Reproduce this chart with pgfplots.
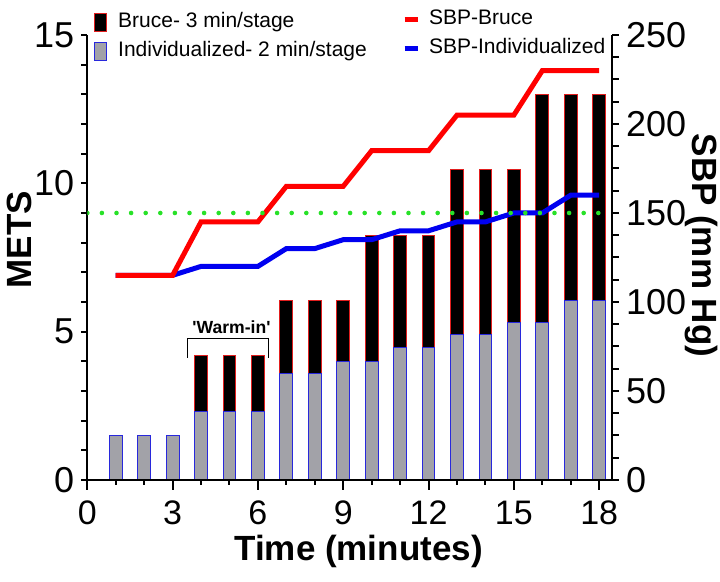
\documentclass[border=0pt]{standalone}
\usepackage{pgfplots}
\pgfplotsset{compat=1.18}
\usepackage{fontspec}
\setmainfont{Liberation Sans}
\definecolor{barred}{RGB}{225,30,30}
\definecolor{barblue}{RGB}{40,40,220}
\definecolor{bargray}{RGB}{162,162,168}
\definecolor{dotgreen}{RGB}{40,225,40}
\definecolor{linered}{RGB}{255,0,0}
\definecolor{lineblue}{RGB}{0,0,240}
\pgfplotsset{
  base/.style={
    scale only axis, width=262.35pt, height=222.5pt,
    at={(43.65pt,51pt)}, anchor=south west,
    xmin=0, xmax=18.45,
    axis line style={line width=1pt, black},
    every tick/.style={black, line width=1pt},
    /pgf/number format/assume math mode=true,
    tick label style={font=\fontsize{18}{18}\selectfont},
    label style={font=\bfseries\fontsize{17.5}{17.5}\selectfont},
  },
  leg/.style={
    legend cell align=left,
    legend style={draw=none, fill=none, inner sep=0pt, outer sep=0pt,
      font=\fontsize{10.5}{12}\selectfont, row sep=2pt,
      nodes={inner sep=1pt, text height=8pt, text depth=2.5pt},
      /tikz/column 1/.style={column sep=4.5pt}},
  },
}
\begin{document}
\begin{tikzpicture}
% METS axis with bars
\begin{axis}[base, leg,
  ymin=0, ymax=15,
  axis y line*=left, axis x line=none, tick align=outside,
  ytick={0,5,10,15},
  minor ytick={1,2,3,4,6,7,8,9,11,12,13,14},
  major tick length=3pt, minor tick length=3pt,
  ylabel={METS},
  ylabel style={at={(axis description cs:-0.129,0.54)}, anchor=center},
  legend style={at={(axis description cs:0.0128,1.057)}, anchor=north west},
]
\addplot[ybar, bar width=0.45, bar shift=0pt, fill=black, draw=barred, line width=0.5pt, forget plot]
  coordinates {(4,4.2)(5,4.2)(6,4.2)(7,6.05)(8,6.05)(9,6.05)(10,8.25)(11,8.25)(12,8.25)
               (13,10.45)(14,10.45)(15,10.45)(16,13)(17,13)(18,13)};
\addplot[ybar, bar width=0.45, bar shift=0pt, fill=bargray, draw=barblue, line width=0.5pt, forget plot]
  coordinates {(1,1.5)(2,1.5)(3,1.5)(4,2.3)(5,2.3)(6,2.3)(7,3.6)(8,3.6)(9,4.0)(10,4.0)
               (11,4.45)(12,4.45)(13,4.9)(14,4.9)(15,5.3)(16,5.3)(17,6.05)(18,6.05)};
\addlegendimage{legend image code/.code={\draw[fill=black, draw=barred, line width=0.6pt] (0pt,-4.5pt) rectangle (6pt,4.5pt);}}
\addlegendentry{Bruce- 3 min/stage}
\addlegendimage{legend image code/.code={\draw[fill=bargray, draw=barblue, line width=0.6pt] (0pt,-4.5pt) rectangle (6pt,4.5pt);}}
\addlegendentry{Individualized- 2 min/stage}
\draw[black, line width=0.6pt] (axis cs:3.52,4.12) -- (axis cs:3.52,4.77) -- (axis cs:6.36,4.77) -- (axis cs:6.36,4.12);
\node[font=\bfseries\fontsize{8.8}{10}\selectfont] at (axis cs:5.07,5.14) {\textquotesingle Warm-in\textquotesingle};
\end{axis}
% SBP axis with lines
\begin{axis}[base, leg,
  ymin=0, ymax=250,
  axis y line*=right, axis x line=none, tick align=outside,
  ytick={0,50,...,250}, minor y tick num=3,
  major tick length=3.5pt, minor tick length=3.5pt,
  ylabel={SBP (mm Hg)},
  ylabel style={at={(axis description cs:1.17,0.527)}, anchor=center, rotate=180},
  legend style={at={(axis description cs:0.6,1.064)}, anchor=north west,
    /tikz/column 1/.style={column sep=3.5pt}},
]
\addplot[lineblue, line width=2.5pt, forget plot]
  coordinates {(1,115)(3,115)(4,120)(6,120)(7,130)(8,130)(9,135)(10,135)(11,140)(12,140)
               (13,145)(14,145)(15,150)(16,150)(17,160)(18,160)};
\addplot[linered, line width=2.5pt, forget plot]
  coordinates {(1,115)(3,115)(4,145)(6,145)(7,165)(9,165)(10,185)(12,185)(13,205)(15,205)(16,230)(18,230)};
\addplot[dotgreen, line width=2.3pt, line cap=round, dash pattern=on 0pt off 7.3pt, forget plot]
  coordinates {(0,150)(18.45,150)};
\addlegendimage{legend image code/.code={\draw[linered, line width=2.5pt] (0pt,0pt) -- (6.5pt,0pt);}}
\addlegendentry{SBP-Bruce}
\addlegendimage{legend image code/.code={\draw[lineblue, line width=2.5pt] (0pt,0pt) -- (6.5pt,0pt);}}
\addlegendentry{SBP-Individualized}
\end{axis}
% x axis
\begin{axis}[base,
  ymin=0, ymax=1,
  axis x line*=bottom, axis y line=none, tick align=outside,
  xtick={0,3,...,18}, minor x tick num=2,
  major tick length=5pt, minor tick length=2.5pt,
  xticklabel style={yshift=-2pt, font=\fontsize{17}{17}\selectfont},
  xlabel={Time (minutes)},
  xlabel style={at={(axis description cs:0.517,-0.16)}, anchor=center},
]
\end{axis}
\pgfresetboundingbox
\path[use as bounding box] (0,0) rectangle (360pt,291pt);
\end{tikzpicture}
\end{document}
